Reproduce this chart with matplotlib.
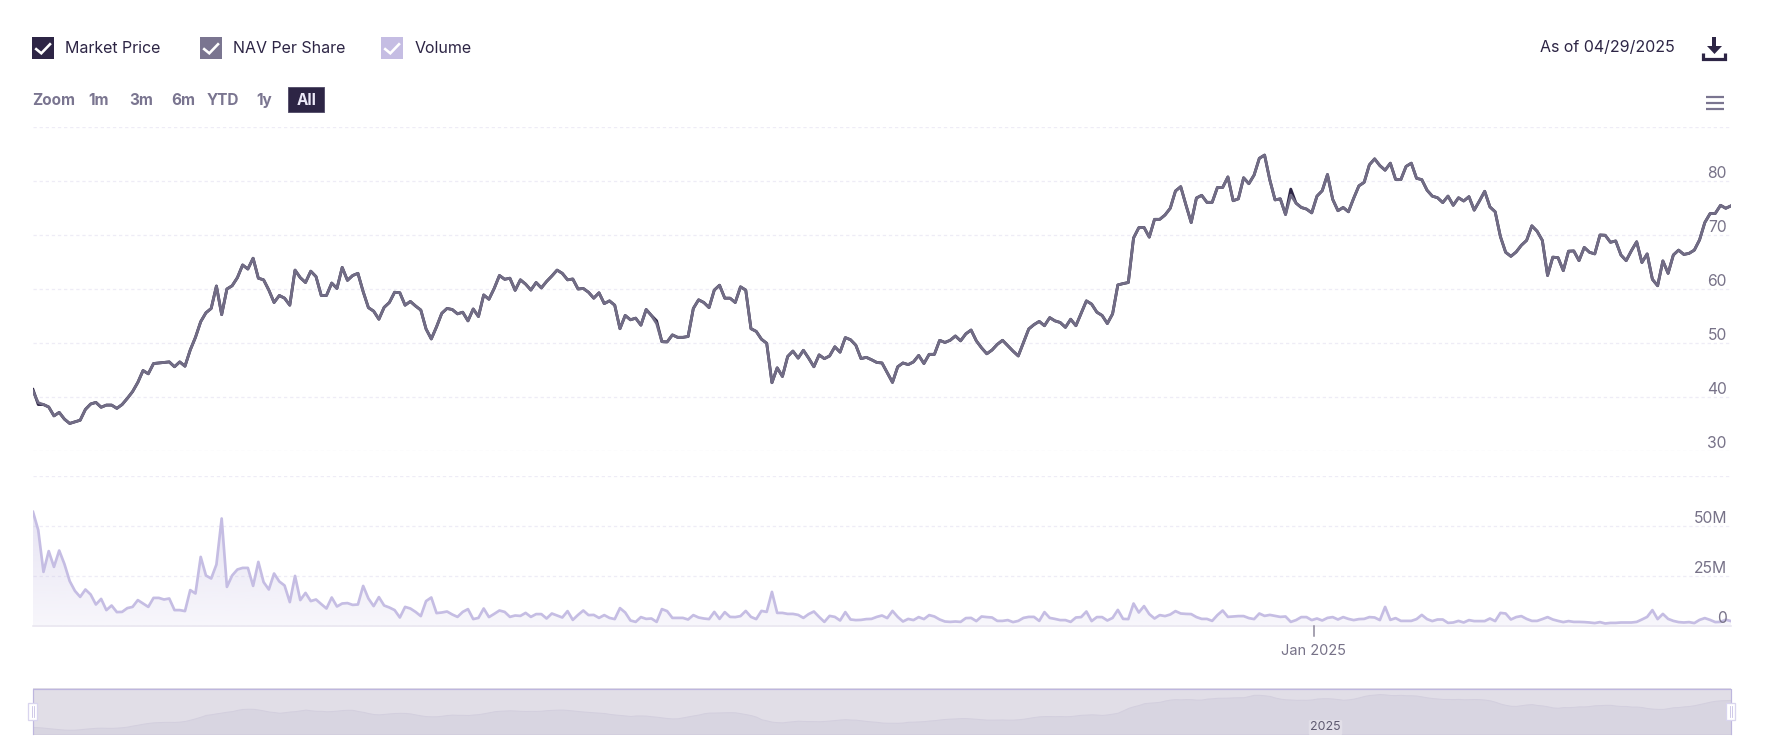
import numpy as np
import pandas as pd
import matplotlib
matplotlib.use("Agg")
import matplotlib.pyplot as plt
from matplotlib.patches import Rectangle, Polygon
from matplotlib.colors import to_rgb

nav_per_share = [
 41.1,38.95,38.6,38.15,36.5,37.15,35.9,35.1,35.4,35.7,37.7,38.7,39,38.1,38.5,38.5,37.9,38.6,39.75,41,42.7,
 44.9,44.3,46.2,46.3,46.4,46.5,45.6,46.5,45.7,48.7,51.05,53.95,55.6,56.4,60.55,55.25,60,60.6,62.1,64.45,63.7,
 65.7,62,61.7,59.8,57.5,58.8,58.3,57,63.5,62.1,61.2,63.3,62.3,58.8,58.8,61.1,60.1,64,61.6,62.5,62.9,59.5,
 56.55,55.9,54.4,56.6,57.5,59.4,59.3,57,57.7,56.85,
 56.1,52.6,50.75,53,55.5,56.4,56.2,55.4,55.7,54.1,56.3,54.9,58.9,58.1,60.1,62.5,61.8,62,59.75,61.7,60.9,59.8,
 61.2,60.2,61.4,62.4,63.5,62.9,61.7,61.85,60,60.1,59.4,58.3,59.3,57.3,57.8,57,52.65,55.1,54.3,54.6,53.3,56.2,
 55.1,53.6,50.25,50.2,51.5,51.05,51.05,51.2,56.4,58,57.5,56.55,59.8,60.7,58.3,58.3,57.5,60.4,59.8,52.65,52.15,
 50.7,49.95,42.65,45.4,43.8,47.5,48.5,47.2,48.65,47.2,45.6,47.8,
 47.1,47.6,49.3,48.3,51,50.6,49.6,47.1,47.35,46.9,46.4,46.3,44.5,42.7,45.6,46.3,46,46.5,47.7,46.2,47.9,47.9,
 50.5,50.1,50.5,51.3,50.4,51.7,52.4,50.4,49.1,48,48.7,49.75,50.5,49.5,48.5,47.6,50.1,52.6,53.4,54,53.2,54.7,
 54.1,53.8,52.9,54.4,53.2,55.5,57.8,57.2,55.7,55.1,53.6,55.4,60.75,61,61.2,69.45,71.35,71.4,69.6,72.9,72.9,
 73.7,74.95,78.15,78.95,75.55,72.3,76.85,77.35,76.05,76.05,78.8,
 78.8,80.75,76.35,76.7,80.6,79.5,81.1,84.2,84.8,80.2,76.5,76.7,73.8,77.4,75.9,75.1,74.8,74.1,77.2,78.2,81.2,
 76.6,74.5,75.1,74.3,76.8,79.1,79.75,83,84.1,82.85,82,83.3,80.3,80.25,82.7,83.3,80.5,80.25,78.3,77.2,76.9,76,
 77.2,75.5,76.9,76.3,77.1,74.6,76.3,78.1,75.2,74.3,69.7,66.8,66.05,66.85,68.1,69,71.7,70.7,69,62.5,65.9,65.8,
 63.4,67,
 67.05,65.25,67.7,66.8,66.5,70,69.95,68.65,68.9,66.3,65.25,67.1,68.75,64.9,66.5,61.8,60.6,65.2,62.9,66.3,67.2,
 66.4,66.6,67.2,69.1,72.3,73.95,74,75.5,74.95,75.4,
]
market_price = list(nav_per_share)
market_price[0] = 41.4
market_price[1] = 38.6
market_price[nav_per_share.index(53.6)] = 54.1
market_price[nav_per_share.index(77.4)] = 78.5

volume_millions = [
 56.8,47.7,26.8,37.2,29.3,37.5,30.7,22.2,17.3,14.3,18,15.5,10.5,13.3,7.7,10,6.7,6.8,8.7,9.3,12.7,11,9.3,13.8,
 13.8,13,13.5,7.7,7.7,7.2,17.7,16,34.3,25,23.5,30.5,53.5,19.3,25,28,28.8,28.8,19.8,31.8,21.7,18,26,22,20,11.7,
 24.8,12.7,16.3,12.2,13,10.7,8.5,14,9.5,11,11.2,10.3,10.5,19.8,13.5,9.7,14.2,10,9,7.7,4,9.3,8.5,6.8,4.7,12.2,14,
 6.2,6.5,7,5.5,4.3,6.8,8.2,3.2,3.8,8.5,4.2,5.8,7.5,6.8,4.3,5,4.8,6.3,4.3,5.7,5.7,3.5,6,5,4,7.2,2.8,5.3,7.5,5.2,5.3,3.8,
 5.2,3.8,3.2,8.7,6.5,2.5,1.8,4.2,3.3,3.5,1.8,8.2,7.2,3.8,3.8,3.8,3,5.2,4,3.5,3.2,6.8,3.3,6.7,4.3,4.2,4.7,7.3,4.3,3.2,
 7.3,6.8,16.8,6.3,6.3,5.8,5.8,5.3,3.8,5.7,7,4.3,1.8,4.8,4.3,2.5,6.7,3,2.7,2.8,3.2,3.3,4.3,5,3.7,7.3,4.3,2,3.3,2.7,4.2,
 3.2,5.2,4.5,3,2,1.8,2,1.8,3.7,
 3.8,2.2,4.5,4.2,4,2.3,2.3,2.7,1.7,2.3,3.8,4.3,4.3,2.3,6.7,3.8,3.3,2.7,2.7,1.8,4,4.2,7,2.2,4.2,4.2,2.5,3.8,7.8,3.3,3.2,
 11,6.5,9.7,5.7,3.5,5.2,4.7,5.5,7.2,6,5.8,5.7,4.2,3.3,3.3,2.3,5.2,7.5,4.3,4.5,4.7,4.7,3.7,3.2,6,4.8,5.3,4.8,4.3,4.5,
 1.8,2.7,4.2,4.2,2.7,3.5,2.5,3.8,4.2,3,4.2,3.3,
 2.7,3.2,3.3,4.2,4,2.7,9.3,2.8,3.7,2.3,2.3,2.3,3.2,5.3,3.2,2.2,3,3,1.3,1.5,2.3,1.5,2.7,2.2,2.2,2.2,3.5,2.2,6.3,6,3,4.2,
 4.7,3.3,2.3,2.3,3.2,4.2,3,2.3,1.7,2.2,1.8,1.8,1.7,1.5,1.2,1.7,1,1.3,1.3,1.5,1.5,1.5,1.8,3,4.3,7.7,3.2,5.8,3.3,2.3,1.7,
 1.5,1.7,1.2,2.8,3.7,2.8,1.7,1.8,2.9,2.2,
]
price_ticks = [30, 40, 50, 60, 70, 80, 90]
price_labels = ["30", "40", "50", "60", "70", "80", ""]
volume_ticks = [0, 25, 50, 75]
volume_labels = ["0", "25M", "50M", ""]
first_2025_index = 244.4
legend_names = ["Market Price", "NAV Per Share", "Volume"]
zoom_names = ["Zoom", "1m", "3m", "6m", "YTD", "1y"]

DARK, NAVC, VOLC = "#2d2545", "#716c85", "#c5bde3"
BTN, GRID, AXTXT = "#7a7590", "#eeecf6", "#777288"
plt.rcParams["font.family"] = ["Inter", "DejaVu Sans"]
W, H = 1771, 754
fig = plt.figure(figsize=(W / 100, H / 100), dpi=100, facecolor="white")
px = 0.72


def add_axes(x0, y0, x1, y1):
    return fig.add_axes([x0 / W, 1 - y1 / H, (x1 - x0) / W, (y1 - y0) / H])


def style(ax):
    ax.patch.set_alpha(0)
    for s in ax.spines.values():
        s.set_visible(False)
    ax.set_xticks([])
    ax.tick_params(left=False, labelleft=False)


n = len(nav_per_share)
xp = np.arange(n)
xv = np.linspace(0, n - 1, len(volume_millions))

ax = add_axes(33, 127, 1731, 451)
style(ax)
ax.set_xlim(0, n - 1)
ax.set_ylim(30, 90)
ax.set_yticks(price_ticks)
ax.grid(axis="y", color=GRID, lw=1.3 * px, ls=(0, (2.5, 2.2)))
ax.set_axisbelow(True)
ax.plot(xp, market_price, color=DARK, lw=2.8 * px, solid_joinstyle="round")
ax.plot(xp, nav_per_share, color=NAVC, lw=2.8 * px, solid_joinstyle="round")
for t, l in zip(price_ticks, price_labels):
    ax.annotate(l, xy=(1, t), xycoords=ax.get_yaxis_transform(), xytext=(-3, 5.2),
                textcoords="offset points", ha="right", va="center", fontsize=11.3, color=AXTXT)

av = add_axes(33, 475.5, 1731, 625.5)
style(av)
av.set_xlim(0, n - 1)
av.set_ylim(0, 75)
av.set_yticks(volume_ticks)
av.grid(axis="y", color=GRID, lw=1.3 * px, ls=(0, (2.5, 2.2)))
av.set_axisbelow(True)
poly = av.fill_between(xv, volume_millions, 0, color="none")
rgb = to_rgb(VOLC)
grad = np.zeros((256, 1, 4))
grad[..., :3] = rgb
grad[..., 3] = np.linspace(0.42, 0.13, 256)[:, None]
im = av.imshow(grad, extent=(0, n - 1, 0, max(volume_millions)), aspect="auto", zorder=1.5)
im.set_clip_path(poly.get_paths()[0], transform=av.transData)
av.set_xlim(0, n - 1)
av.set_ylim(0, 75)
av.plot(xv, volume_millions, color=VOLC, lw=2.7 * px, solid_joinstyle="round", zorder=3)
for t, l in zip(volume_ticks, volume_labels):
    av.annotate(l, xy=(1, t), xycoords=av.get_yaxis_transform(), xytext=(-3, 4.9),
                textcoords="offset points", ha="right", va="center", fontsize=11.3, color=AXTXT)

an = add_axes(33, 688, 1731, 734)
style(an)
an.set_facecolor("#e1dee7")
an.patch.set_alpha(1)
an.set_xlim(0, n - 1)
an.set_ylim(30.2, 91)
smooth = pd.Series(nav_per_share).rolling(5, center=True, min_periods=1).mean()
an.fill_between(xp, smooth, 30.2, color="#d8d5e1", lw=0.7, edgecolor="#d3cfde")

ov = fig.add_axes([0, 0, 1, 1])
ov.set_xlim(0, W)
ov.set_ylim(H, 0)
ov.axis("off")
ov.patch.set_alpha(0)

# baseline, tick and axis labels
ov.plot([33, 1731], [625.7, 625.7], color="#e6e3ee", lw=1.5 * px)
first_x = 33 + (1731 - 33) * first_2025_index / (n - 1)
ov.plot([first_x] * 2, [626, 636], color="#8a8599", lw=1.5 * px)
ov.text(first_x, 651, "Jan 2025", ha="center", va="center", fontsize=10.5, color=AXTXT)

# navigator chrome
ov.plot([33, 33, 1731, 1731], [734, 688.5, 688.5, 734], color="#bdb6de", lw=1.2 * px)
ov.text(1325.5, 727.5, "2025", ha="center", va="center", fontsize=8.9, color="#5f5a70",
        bbox=dict(boxstyle="round,pad=0.12", fc="#e2dfe8", ec="none"))
for hx in (28.5, 1726.5):
    ov.add_patch(Rectangle((hx, 702.7), 8.5, 17.3, fc="white", ec="#d9d5ee", lw=1.3 * px, zorder=5))
    ov.plot([hx + 3.2] * 2, [706, 717], color="#c5bde3", lw=0.8 * px, zorder=6)
    ov.plot([hx + 5.4] * 2, [706, 717], color="#c5bde3", lw=0.8 * px, zorder=6)

# legend
for name, bx, tx, col in zip(legend_names, (32, 200, 381), (65, 233, 415), (DARK, BTN, VOLC)):
    ov.add_patch(Rectangle((bx, 37), 22, 22, fc=col, ec="none"))
    ov.plot([bx + 3.2, bx + 9.3, bx + 18.9], [48.3, 53.3, 43.3], color="white", lw=2.6 * px,
            solid_capstyle="butt", solid_joinstyle="miter")
    ov.text(tx, 48.6, name, ha="left", va="center", fontsize=11.5, color=DARK)

# zoom buttons
for name, cx in zip(zoom_names, (53.8, 98.5, 141, 183, 223, 264.5)):
    ov.text(cx, 100.6, name, ha="center", va="center", fontsize=11, color=BTN, fontweight="bold")
ov.add_patch(Rectangle((288.5, 87), 36, 25, fc=DARK, ec="#59536e", lw=0.7))
ov.text(306.5, 100.6, "All", ha="center", va="center", fontsize=11, color="#ece9f8", fontweight="bold")

# right-hand header
ov.text(1675, 47.6, "As of 04/29/2025", ha="right", va="center", fontsize=11.5, color=DARK)
ov.plot([1714.5, 1714.5], [37, 50], color=DARK, lw=4 * px, solid_capstyle="butt")
ov.add_patch(Polygon([(1707, 46), (1722, 46), (1714.5, 54)], fc=DARK, ec="none"))
ov.plot([1703.5, 1703.5, 1725.5, 1725.5], [53, 59.3, 59.3, 53], color=DARK, lw=3.2 * px,
        solid_joinstyle="miter", solid_capstyle="butt")
for hy in (97, 103, 109):
    ov.plot([1706, 1724], [hy, hy], color=BTN, lw=2.2 * px, solid_capstyle="butt")

fig.savefig("out.png", dpi=100)
